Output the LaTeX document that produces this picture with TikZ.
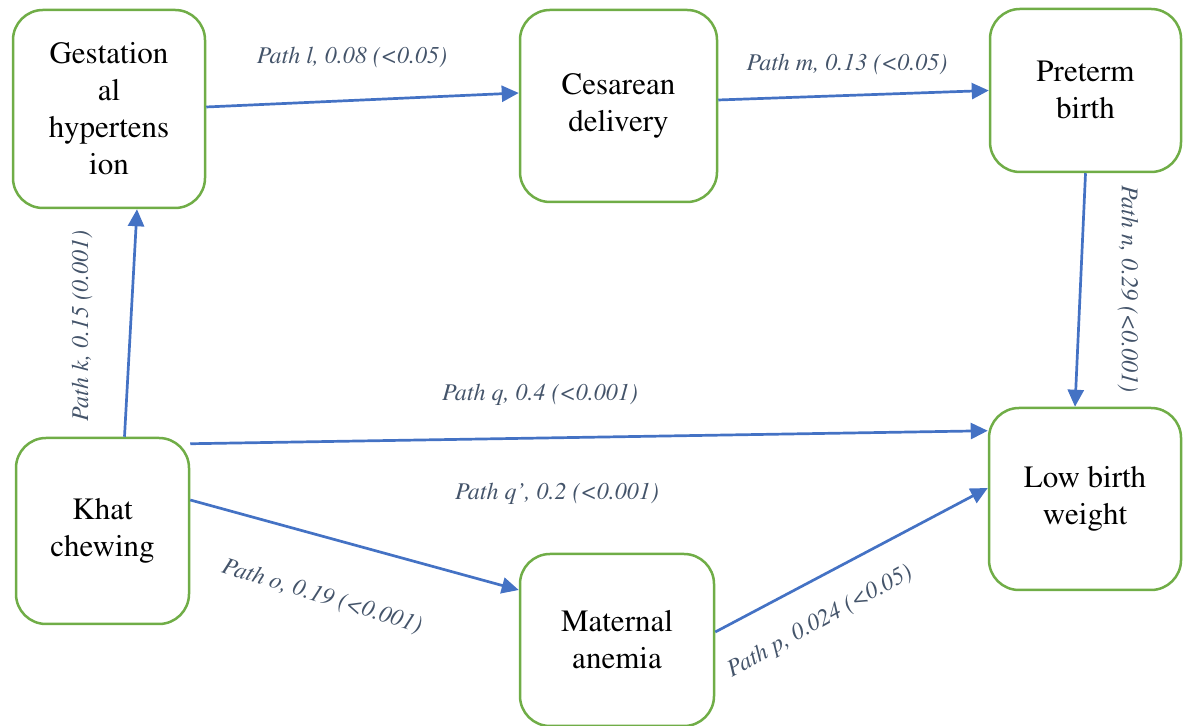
\documentclass[tikz,border=0pt]{standalone}
\usepackage[T1]{fontenc}
\usepackage{mathptmx}
\usepackage{tikz}
\usetikzlibrary{arrows.meta, calc}
\definecolor{boxgreen}{RGB}{112,173,71}
\definecolor{arrowblue}{RGB}{68,114,196}
\definecolor{labelgray}{RGB}{68,84,106}

\begin{document}
\begin{tikzpicture}[x = 0.5pt, y = 0.5pt,
    box/.style = {draw = boxgreen, line width = 1.25pt, rounded corners = 15pt,
      align = center, inner sep = 0pt, font = \fontsize{15.5}{18.5}\selectfont},
    arr/.style = {draw = arrowblue, line width = 1.35pt,
      -{Triangle[length = 8.5pt, width = 8pt]}},
    pathlabel/.style = {text = labelgray, inner sep = 0pt,
      font = \fontsize{12}{14}\selectfont\itshape}]
      \useasboundingbox (0, 0) rectangle (1186, 726);
      % boxes
      \node [box, minimum width = 96pt, minimum height = 99pt] (gest) at (109, 617)
        {Gestation\\al\\hypertens\\ion};
      \node [box, minimum width = 98.5pt, minimum height = 96pt] (ces) at (618.5, 620)
        {Cesarean\\delivery};
      \node [box, minimum width = 95.5pt, minimum height = 81.5pt] (pre) at (1085.5, 635.5)
        {Preterm\\birth};
      \node [box, minimum width = 96pt, minimum height = 91pt] (lbw) at (1085, 227)
        {Low birth\\weight};
      \node [box, minimum width = 86.5pt, minimum height = 93pt] (khat) at (102.5, 195)
        {Khat\\chewing};
      \node [box, minimum width = 97pt, minimum height = 86pt] (anem) at (617, 86)
        {Maternal\\anemia};
      % paths
      \draw [arr] ($(gest.east) + (0, 2)$) -- ($(ces.west) + (0, 13)$);
      \draw [arr] ($(ces.east) + (0, 6)$) -- (pre.west);
      \draw [arr] (pre.south) -- ($(lbw.north) + (-10, 0)$);
      \draw [arr] ($(khat.north) + (22, 0)$) -- ($(gest.south) + (28, 0)$);
      \draw [arr] ($(khat.north east) + (0, -7)$) -- ($(lbw.north west) + (0, -24)$);
      \draw [arr] ($(khat.east) + (0, 31)$) -- ($(anem.west) + (0, 50)$);
      \draw [arr] ($(anem.east) + (0, 8)$) -- ($(lbw.west) + (0, 11)$);
      % labels
      \node [pathlabel] (lab-l) at (352, 669) {Path l, 0.08 (<0.05)};
      \node [pathlabel] (lab-m) at (847, 662) {Path m, 0.13 (<0.05)};
      \node [pathlabel, rotate = -90] (lab-n) at (1128, 437) {Path n, 0.29 (<0.001)};
      \node [pathlabel, rotate = 90] (lab-k) at (82, 400) {Path k, 0.15 (0.001)};
      \node [pathlabel] (lab-q) at (540, 331) {Path q, 0.4 (<0.001)};
      \node [pathlabel] (lab-qq) at (557, 232) {Path q', 0.2 (<0.001)};
      \node [pathlabel, rotate = -17] (lab-o) at (322, 129) {Path o, 0.19 (<0.001)};
      \node [pathlabel, rotate = 29] (lab-p) at (820, 104) {Path p, 0.024 (<0.05)};
    \end{tikzpicture}
\end{document}
